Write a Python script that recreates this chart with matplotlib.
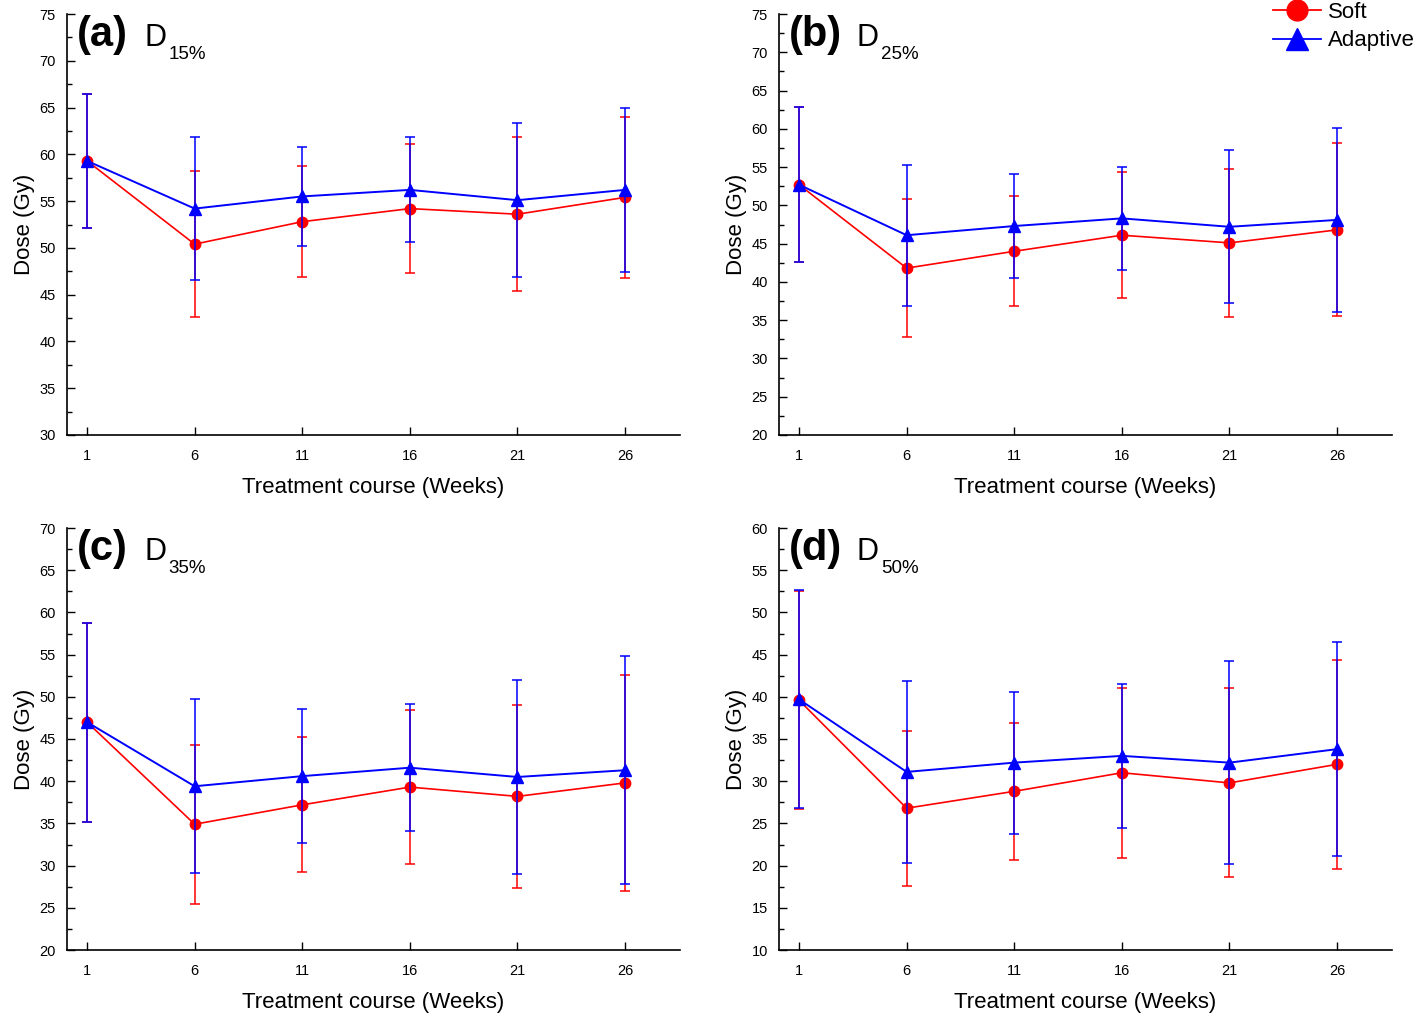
import matplotlib
matplotlib.use('Agg')
import matplotlib.pyplot as plt
from matplotlib.lines import Line2D
from matplotlib.ticker import MultipleLocator

plt.rcParams['font.family'] = ['Liberation Sans', 'DejaVu Sans']

## data
weeks = [1, 6, 11, 16, 21, 26]
panels = ['(a)', '(b)', '(c)', '(d)']
subs = ['15%', '25%', '35%', '50%']
ylims = [(30, 75), (20, 75), (20, 70), (10, 60)]

soft_a = [59.3, 50.4, 52.8, 54.2, 53.6, 55.4]
soft_a_sd = [7.2, 7.8, 5.9, 6.9, 8.2, 8.6]
adap_a = [59.3, 54.2, 55.5, 56.2, 55.1, 56.2]
adap_a_sd = [7.2, 7.6, 5.3, 5.6, 8.2, 8.8]

soft_b = [52.7, 41.8, 44.0, 46.1, 45.1, 46.8]
soft_b_sd = [10.1, 9.0, 7.2, 8.2, 9.7, 11.3]
adap_b = [52.7, 46.1, 47.3, 48.3, 47.2, 48.1]
adap_b_sd = [10.1, 9.2, 6.8, 6.7, 10.0, 12.0]

soft_c = [47.0, 34.9, 37.2, 39.3, 38.2, 39.8]
soft_c_sd = [11.8, 9.4, 8.0, 9.1, 10.8, 12.8]
adap_c = [47.0, 39.4, 40.6, 41.6, 40.5, 41.3]
adap_c_sd = [11.8, 10.3, 7.9, 7.5, 11.5, 13.5]

soft_d = [39.6, 26.8, 28.8, 31.0, 29.8, 32.0]
soft_d_sd = [12.9, 9.2, 8.1, 10.1, 11.2, 12.4]
adap_d = [39.7, 31.1, 32.2, 33.0, 32.2, 33.8]
adap_d_sd = [12.9, 10.8, 8.4, 8.5, 12.0, 12.7]

soft = [soft_a, soft_b, soft_c, soft_d]
soft_sd = [soft_a_sd, soft_b_sd, soft_c_sd, soft_d_sd]
adap = [adap_a, adap_b, adap_c, adap_d]
adap_sd = [adap_a_sd, adap_b_sd, adap_c_sd, adap_d_sd]

## layout (pixel based, 1418x1016)
W, H = 1418.0, 1016.0
lefts = [67, 779, 67, 779]
tops = [14, 14, 528, 528]
bottoms = [435, 435, 950, 950]
aw = 613

fig = plt.figure(figsize=(14.18, 10.16), dpi=100)

for i in range(4):
    ax = fig.add_axes([lefts[i] / W, 1 - bottoms[i] / H, aw / W, (bottoms[i] - tops[i]) / H])

    # red below, blue error bars on top
    ax.errorbar(weeks, soft[i], yerr=soft_sd[i], color='#ff0000', lw=1.2, elinewidth=1.1,
                capsize=3.5, capthick=1.1, marker='o', ms=7.5, zorder=2)
    ax.errorbar(weeks, adap[i], yerr=adap_sd[i], color='#0000ff', lw=1.4, elinewidth=1.1,
                capsize=3.5, capthick=1.1, marker='^', ms=8.5, zorder=3)

    ax.set_xlim(0.07, 28.55)
    ax.set_ylim(*ylims[i])
    ax.set_xticks(weeks)
    ax.yaxis.set_major_locator(MultipleLocator(5))
    ax.yaxis.set_minor_locator(MultipleLocator(2.5))
    ax.tick_params(axis='both', which='major', direction='in', length=6, width=1, labelsize=10.5, pad=8)
    ax.tick_params(axis='x', which='major', pad=10)
    ax.tick_params(axis='y', which='minor', direction='in', length=3.5, width=1)
    ax.tick_params(axis='x', which='minor', bottom=False)

    for s in ['top', 'right']:
        ax.spines[s].set_visible(False)
    for s in ['left', 'bottom']:
        ax.spines[s].set_linewidth(1.2)

    ax.set_xlabel('Treatment course (Weeks)', fontsize=16, labelpad=10)
    ax.set_ylabel('Dose (Gy)', fontsize=16, labelpad=3)

    ## panel label
    ax.text(0.016, 0.925, panels[i], transform=ax.transAxes, fontsize=30, fontweight='bold', va='baseline')
    ax.text(0.127, 0.925, 'D', transform=ax.transAxes, fontsize=22, va='baseline')
    ax.text(0.166, 0.893, subs[i], transform=ax.transAxes, fontsize=13.5, va='baseline')

## legend at top right
handles = [Line2D([], [], color='#ff0000', marker='o', ms=15, lw=1.3),
           Line2D([], [], color='#0000ff', marker='^', ms=16, lw=1.3)]
fig.legend(handles, ['Soft', 'Adaptive'], loc='upper right', bbox_to_anchor=(1.012, 1.018),
           frameon=False, fontsize=16, handlelength=2.2, handletextpad=0.3, labelspacing=0.35)

plt.savefig('out.png', dpi=100)
